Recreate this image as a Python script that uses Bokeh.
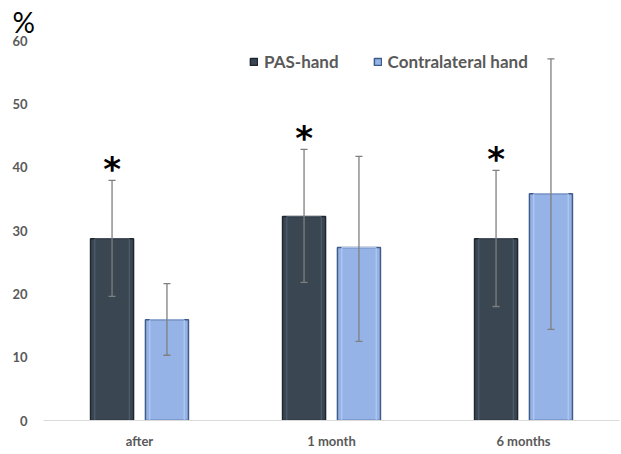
from bokeh.plotting import figure
from bokeh.models import ColumnDataSource, FixedTicker, Title, Legend, LegendItem
from bokeh.transform import dodge
from bokeh.core.properties import value
from bokeh.embed import file_html
from bokeh.resources import INLINE

categories = ["after", "1 month", "6 months"]
pas_hand = [28.7, 32.2, 28.7]
pas_low = [19.6, 21.8, 18.0]
pas_high = [37.9, 42.8, 39.5]
contra_hand = [15.9, 27.3, 35.8]
contra_low = [10.3, 12.5, 14.4]
contra_high = [21.6, 41.7, 57.1]
y_ticks = [0, 10, 20, 30, 40, 50, 60]

src = ColumnDataSource(dict(cat=categories, pas=pas_hand, pas_lo=pas_low, pas_hi=pas_high,
                            con=contra_hand, con_lo=contra_low, con_hi=contra_high,
                            star=["*"] * 3))

FONT = "Lato"
GRAY = "#595959"

p = figure(x_range=categories, y_range=(0, 60), width=621, height=454,
           output_backend="svg", toolbar_location=None,
           min_border_left=43, min_border_right=2, min_border_top=40, min_border_bottom=34)
p.outline_line_color = None
p.xgrid.grid_line_color = None
p.ygrid.grid_line_color = None
p.x_range.range_padding = 0

off = 0.143
bw = 0.224
xp = dodge("cat", -off, range=p.x_range)
xc = dodge("cat", off, range=p.x_range)

r1 = p.vbar(x=xp, top="pas", width=bw, source=src, fill_color="#3a4652",
            line_color="#1e2731", line_width=1.5)
p.vbar(x=xp, top="pas", width=bw * 0.8, source=src, fill_color=None,
       line_color="#55616d", line_width=1)
r2 = p.vbar(x=xc, top="con", width=bw, source=src, fill_color="#95b3e6",
            line_color="#3f5b8c", line_width=1.5)
p.vbar(x=xc, top="con", width=bw * 0.8, source=src, fill_color=None,
       line_color="#b9cdf0", line_width=1)

for x, lo, hi in [(xp, "pas_lo", "pas_hi"), (xc, "con_lo", "con_hi")]:
    p.segment(x0=x, y0=lo, x1=x, y1=hi, source=src, line_color="#7f7f7f", line_width=1.3)
    p.dash(x=x, y=lo, size=7, source=src, line_color="#7f7f7f", line_width=1.3)
    p.dash(x=x, y=hi, size=7, source=src, line_color="#7f7f7f", line_width=1.3)

p.text(x=xp, y="pas_hi", text="star", source=src, text_font=value("DejaVu Sans"),
       text_font_style="bold", text_font_size="34px", text_align="center",
       text_baseline="middle", y_offset=-11, text_color="black")

p.yaxis.ticker = FixedTicker(ticks=y_ticks)
p.yaxis.axis_line_color = None
p.yaxis.major_tick_line_color = None
p.yaxis.minor_tick_line_color = None
p.yaxis.major_label_text_font = FONT
p.yaxis.major_label_text_font_style = "bold"
p.yaxis.major_label_text_font_size = "13px"
p.yaxis.major_label_text_color = GRAY
p.yaxis.major_label_standoff = 10

p.xaxis.axis_line_color = "#d9d9d9"
p.xaxis.major_tick_line_color = None
p.xaxis.minor_tick_line_color = None
p.xaxis.major_label_text_font = FONT
p.xaxis.major_label_text_font_style = "bold"
p.xaxis.major_label_text_font_size = "13px"
p.xaxis.major_label_text_color = GRAY
p.xaxis.major_label_standoff = 6

p.add_layout(Title(text="%", align="left", offset=-31, text_font=FONT,
                   text_font_size="28px", text_font_style="normal",
                   text_color="black", standoff=3, vertical_align="bottom"), "above")

legend = Legend(items=[LegendItem(label="PAS-hand", renderers=[r1]),
                       LegendItem(label="Contralateral hand", renderers=[r2])],
                orientation="horizontal", location=(206, 348),
                label_text_font=FONT, label_text_font_style="bold",
                label_text_font_size="17px", label_text_color=GRAY,
                glyph_width=9, glyph_height=9, spacing=34, label_standoff=6,
                background_fill_alpha=0, border_line_color=None, padding=4)
p.add_layout(legend, "center")

open("out.html", "w").write(file_html(p, INLINE))
